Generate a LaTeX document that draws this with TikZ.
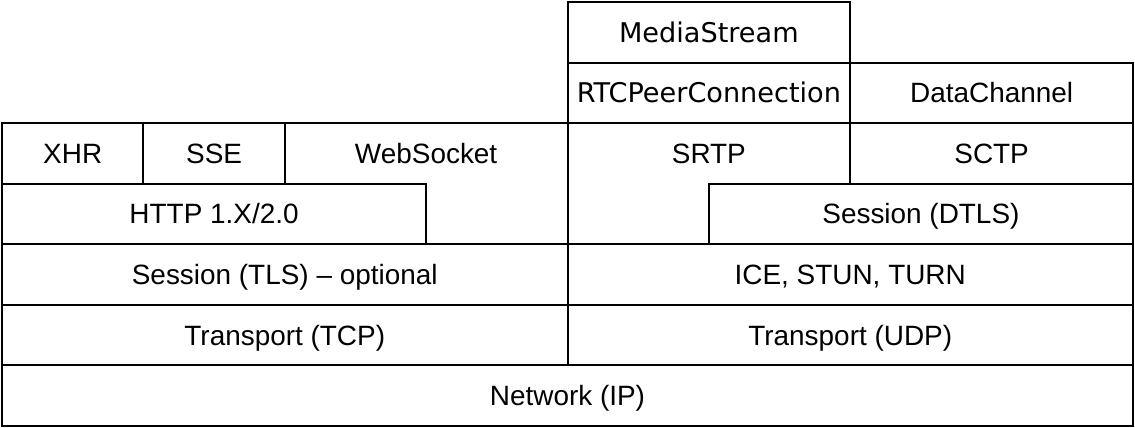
\documentclass[tikz,border=0pt]{standalone}
\usepackage{fontspec}
\setmainfont{Liberation Sans}
\newfontfamily\dejavu{DejaVu Sans}
\usetikzlibrary{positioning}

\tikzset{
  layer/.style={draw, fill=white, line width=1pt},
  proto/.style={font=\fontsize{14}{17}\selectfont, text height=10pt, text depth=0pt, inner sep=0pt},
  apibox/.style={proto, font=\dejavu\fontsize{13.6}{16}\selectfont}
}

\begin{document}
\begin{tikzpicture}[x=2.4912cm, y=-1.0673cm]
        \useasboundingbox (-0.0142,-0.033) rectangle (8.0142,7.033);
        % tall boxes first, the others lie over them
        \draw[layer] (2,2) rectangle (4,4);
        \draw[layer] (4,2) rectangle (6,4);
        % WebRTC boxes
        \draw[layer] (4,0) rectangle (6,1);
        \draw[layer] (4,1) rectangle (6,2);
        \draw[layer] (6,1) rectangle (8,2);
        \draw[layer] (6,2) rectangle (8,3);
        \draw[layer] (5,3) rectangle (8,4);
        \draw[layer] (4,4) rectangle (8,5);
        \draw[layer] (4,5) rectangle (8,6);
        % HTTP boxes
        \draw[layer] (0,2) rectangle (1,3);
        \draw[layer] (1,2) rectangle (2,3);
        \draw[layer] (0,3) rectangle (3,4);
        \draw[layer] (0,4) rectangle (4,5);
        \draw[layer] (0,5) rectangle (4,6);
        % Network
        \draw[layer] (0,6) rectangle (8,7);
        % Labels
        \node[apibox] (mediastream) at (5,0.5) {MediaStream};
        \node[apibox] (peerconn) at (5,1.5) {RTCPeerConnection};
        \node[proto] (datachannel) at (7,1.5) {DataChannel};
        \node[proto] (xhr) at (0.5,2.5) {XHR};
        \node[proto] (sse) at (1.5,2.5) {SSE};
        \node[proto] (websocket) at (3,2.5) {WebSocket};
        \node[proto] (srtp) at (5,2.5) {SRTP};
        \node[proto] (sctp) at (7,2.5) {SCTP};
        \node[proto] (http) at (1.5,3.5) {HTTP 1.X/2.0};
        \node[proto] (dtls) at (6.5,3.5) {Session (DTLS)};
        \node[proto] (tls) at (2,4.5) {Session (TLS) – optional};
        \node[proto] (ice) at (6,4.5) {ICE, STUN, TURN};
        \node[proto] (tcp) at (2,5.5) {Transport (TCP)};
        \node[proto] (udp) at (6,5.5) {Transport (UDP)};
        \node[proto] (ip) at (4,6.5) {Network (IP)};
\end{tikzpicture}
\end{document}
